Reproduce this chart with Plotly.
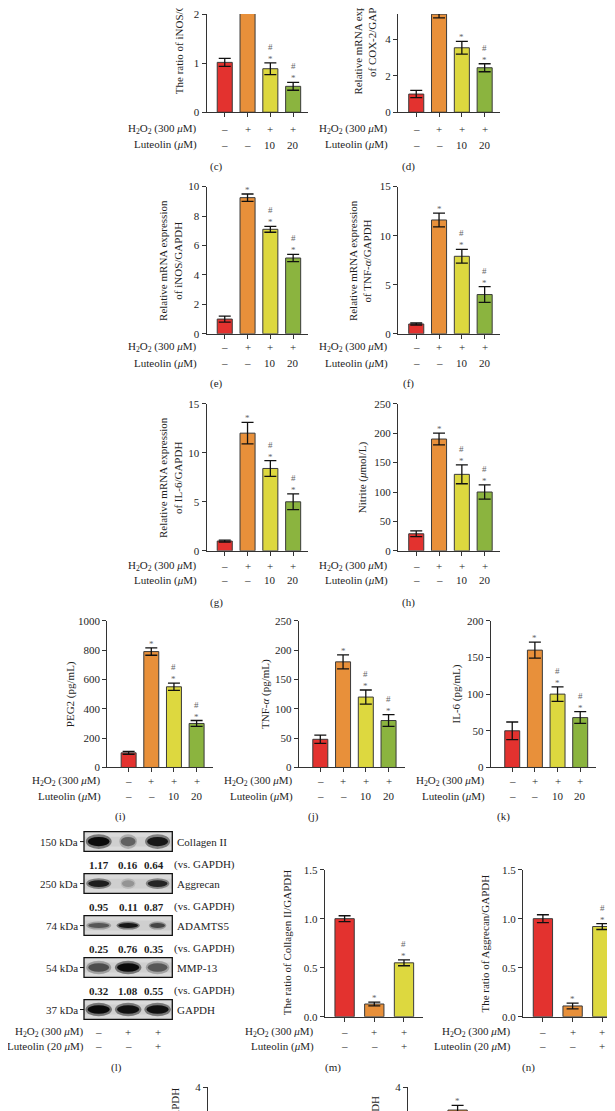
import plotly.graph_objects as go

W, H = 615, 1111
FONT = "Liberation Serif"
EDGE = "#3a3a3a"
AX = "#333333"
MARK = "#666666"
COL4 = ["#E3322F", "#E8903A", "#DDD83F", "#8BB43F"]

# ---------------- data ----------------
c_vals = [1.02, 2.60, 0.89, 0.53]; c_err = [0.08, 0.10, 0.12, 0.08]
d_vals = [1.00, 5.40, 3.55, 2.45]; d_err = [0.20, 0.20, 0.35, 0.22]
e_vals = [1.00, 9.25, 7.10, 5.15]; e_err = [0.20, 0.25, 0.20, 0.25]
f_vals = [1.00, 11.6, 7.90, 4.00]; f_err = [0.10, 0.70, 0.70, 0.80]
g_vals = [1.00, 12.0, 8.40, 5.00]; g_err = [0.10, 1.10, 0.80, 0.80]
h_vals = [29, 190, 130, 100]; h_err = [5, 10, 16, 12]
i_vals = [100, 790, 550, 300]; i_err = [10, 25, 25, 20]
j_vals = [48, 180, 120, 80]; j_err = [7, 12, 12, 10]
k_vals = [50, 160, 100, 68]; k_err = [12, 11, 10, 8]
m_vals = [1.00, 0.13, 0.55]; m_err = [0.03, 0.02, 0.03]
n_vals = [1.00, 0.11, 0.92]; n_err = [0.04, 0.03, 0.03]
o_vals = [1.00, 3.00, 2.00]; o_err = [0.10, 0.16, 0.15]
p_vals = [1.00, 3.38, 1.80]; p_err = [0.10, 0.13, 0.15]

sig_main = ["", "*", "#*", "#*"]
sig_d = ["", "*", "*", "#*"]
sig_3 = ["", "*", "#*"]

h2o2_4 = ["–", "+", "+", "+"]
lut_4 = ["–", "–", "10", "20"]
h2o2_3 = ["–", "+", "+"]
lut_3 = ["–", "–", "+"]

H2O2_LABEL = "H<sub>2</sub>O<sub>2</sub> (300 <i>μ</i>M)"
LUT_LABEL = "Luteolin (<i>μ</i>M)"
LUT20_LABEL = "Luteolin (20 <i>μ</i>M)"

blot_proteins = ["Collagen II", "Aggrecan", "ADAMTS5", "MMP-13", "GAPDH"]
blot_kda = ["150 kDa", "250 kDa", "74 kDa", "54 kDa", "37 kDa"]
blot_ratios = [["1.17", "0.16", "0.64"], ["0.95", "0.11", "0.87"],
               ["0.25", "0.76", "0.35"], ["0.32", "1.08", "0.55"], None]
band_intensity = [[1.0, 0.45, 0.9], [0.85, 0.22, 0.8], [0.5, 0.9, 0.6],
                  [0.55, 1.0, 0.5], [1.0, 0.95, 0.95]]
band_width = [[0.88, 0.6, 0.85], [0.85, 0.5, 0.8], [0.85, 0.8, 0.6],
              [0.85, 0.9, 0.8], [0.9, 0.9, 0.9]]
band_height = [0.22, 0.16, 0.12, 0.2, 0.2]

# ---------------- panels (layout in px) ----------------
X4 = [-0.80, 3.66]
X4b = [-0.95, 3.71]
X3 = [-0.67, 2.64]
panels = [
    dict(v=c_vals, e=c_err, s=sig_main, xd=[198.5, 300.2], yd=[0, 99.3], yr=[0, 2.01], yt=[0, 1, 2], xr=X4,
         title="The ratio of iNOS/GAPDH", tx=171.3, ty=83.3, tya="bottom",
         rows=(h2o2_4, lut_4, LUT_LABEL), rx=190.8, ry=(116, 132), lab="(c)", lx=208.5, ly=154),
    dict(v=d_vals, e=d_err, s=sig_d, xd=[390, 491.7], yd=[0, 99.3], yr=[0, 5.41], yt=[0, 2, 4], xr=X4,
         title="Relative mRNA expression<br>of COX-2/GAPDH", tx=356.7, ty=83.3, tya="bottom",
         rows=(h2o2_4, lut_4, LUT_LABEL), rx=382.3, ry=(116, 132), lab="(d)", lx=400, ly=154),
    dict(v=e_vals, e=e_err, s=sig_main, xd=[198.5, 300.2], yd=[174.5, 323.3], yr=[0, 10], yt=[0, 2, 4, 6, 8, 10], xr=X4,
         title="Relative mRNA expression<br>of iNOS/GAPDH", tx=162.7, ty=248.9, tya="middle",
         rows=(h2o2_4, lut_4, LUT_LABEL), rx=190.8, ry=(337, 353), lab="(e)", lx=208.5, ly=374),
    dict(v=f_vals, e=f_err, s=sig_main, xd=[390, 491.7], yd=[174.5, 323.3], yr=[0, 15], yt=[0, 5, 10, 15], xr=X4,
         title="Relative mRNA expression<br>of TNF-<i>α</i>/GAPDH", tx=351.9, ty=248.9, tya="middle",
         rows=(h2o2_4, lut_4, LUT_LABEL), rx=382.3, ry=(337, 353), lab="(f)", lx=400, ly=374),
    dict(v=g_vals, e=g_err, s=sig_main, xd=[198.5, 300.2], yd=[394, 542.7], yr=[0, 15], yt=[0, 5, 10, 15], xr=X4,
         title="Relative mRNA expression<br>of IL-6/GAPDH", tx=162.7, ty=468.4, tya="middle",
         rows=(h2o2_4, lut_4, LUT_LABEL), rx=190.8, ry=(558.3, 572.5), lab="(g)", lx=208.5, ly=595),
    dict(v=h_vals, e=h_err, s=sig_main, xd=[390, 491.7], yd=[394, 542.7], yr=[0, 250], yt=[0, 50, 100, 150, 200, 250], xr=X4,
         title="Nitrite (<i>μ</i>mol/L)", tx=354.8, ty=468.4, tya="middle",
         rows=(h2o2_4, lut_4, LUT_LABEL), rx=382.3, ry=(558.3, 572.5), lab="(h)", lx=400, ly=595),
    dict(v=i_vals, e=i_err, s=sig_main, xd=[99.1, 204.7], yd=[613.4, 761.7], yr=[0, 1000], yt=[0, 200, 400, 600, 800, 1000], xr=X4b,
         title="PEG2 (pg/mL)", tx=62, ty=687.6, tya="middle",
         rows=(h2o2_4, lut_4, LUT_LABEL), rx=95.4, ry=(775.7, 790.7), lab="(i)", lx=112.5, ly=811.7),
    dict(v=j_vals, e=j_err, s=sig_main, xd=[290.7, 396.7], yd=[613.4, 761.7], yr=[0, 250], yt=[0, 50, 100, 150, 200, 250], xr=X4b,
         title="TNF-<i>α</i> (pg/mL)", tx=256.8, ty=687.6, tya="middle",
         rows=(h2o2_4, lut_4, LUT_LABEL), rx=287, ry=(775.7, 790.7), lab="(j)", lx=305, ly=811.7),
    dict(v=k_vals, e=k_err, s=sig_main, xd=[482.7, 588.3], yd=[613.4, 761.7], yr=[0, 200], yt=[0, 50, 100, 150, 200], xr=X4b,
         title="IL-6 (pg/mL)", tx=448.3, ty=687.6, tya="middle",
         rows=(h2o2_4, lut_4, LUT_LABEL), rx=479, ry=(775.7, 790.7), lab="(k)", lx=495, ly=811.7),
    dict(v=m_vals, e=m_err, s=sig_3, xd=[316.7, 415], yd=[865, 1013.7], yr=[0, 1.5], yt=[0, 0.5, 1.0, 1.5], xr=X3, fmt=".1f",
         title="The ratio of Collagen II/GAPDH", tx=279, ty=939.4, tya="middle",
         rows=(h2o2_3, lut_3, LUT_LABEL), rx=308.3, ry=(1029.3, 1043.3), lab="(m)", lx=325, ly=1065),
    dict(v=n_vals, e=n_err, s=sig_3, xd=[515, 613.3], yd=[865, 1013.7], yr=[0, 1.5], yt=[0, 0.5, 1.0, 1.5], xr=X3, fmt=".1f",
         title="The ratio of Aggrecan/GAPDH", tx=477.3, ty=939.4, tya="middle",
         rows=(h2o2_3, lut_3, LUT20_LABEL), rx=505, ry=(1029.3, 1043.3), lab="(n)", lx=520, ly=1065),
    dict(v=o_vals, e=o_err, s=sig_3, xd=[200, 298.3], yd=[1085, 1111], yr=[3.30, 4.0], yt=[4], xr=X3, noxline=True,
         title="The ratio of ADAMTS5/GAPDH", tx=166.7, ty=1083.3, tya="top"),
    dict(v=p_vals, e=p_err, s=sig_3, xd=[400, 498.3], yd=[1085, 1111], yr=[3.30, 4.0], yt=[4], xr=X3, noxline=True,
         title="The ratio of MMP-13/GAPDH", tx=367, ty=1091.7, tya="top"),
]

fig = go.Figure()
layout = {}
annotations = []
shapes = []


def fx(px):
    return px / W


def fy(py):
    return 1 - py / H


def tfont(size=11, color="#1e1e1e"):
    return dict(family=FONT, size=size, color=color)


for idx, p in enumerate(panels, start=1):
    xa = "x" if idx == 1 else f"x{idx}"
    ya = "y" if idx == 1 else f"y{idx}"
    xkey = "xaxis" if idx == 1 else f"xaxis{idx}"
    ykey = "yaxis" if idx == 1 else f"yaxis{idx}"
    n = len(p["v"])
    cats = list(range(n))
    fig.add_trace(go.Bar(
        x=cats, y=p["v"], width=0.66 if n == 4 else 0.65,
        marker=dict(color=COL4[:n], line=dict(color=EDGE, width=1)),
        error_y=dict(type="data", array=p["e"], color="#111", thickness=1.3, width=6),
        xaxis=xa, yaxis=ya, showlegend=False, hoverinfo="skip"))
    nox = p.get("noxline", False)
    layout[xkey] = dict(domain=[fx(p["xd"][0]), fx(p["xd"][1])], anchor=ya, range=p["xr"],
                        showline=not nox, linecolor=AX, linewidth=1,
                        ticks="" if nox else "outside", ticklen=4, tickcolor=AX, tickwidth=1,
                        tickvals=cats, showticklabels=False, showgrid=False, zeroline=False,
                        fixedrange=True)
    layout[ykey] = dict(domain=[fy(p["yd"][1]), fy(p["yd"][0])], anchor=xa, range=p["yr"],
                        showline=True, linecolor=AX, linewidth=1, ticks="outside", ticklen=4,
                        tickcolor=AX, tickwidth=1, tickvals=p["yt"], tickfont=tfont(11),
                        tickformat=p.get("fmt", ""), showgrid=False, zeroline=False,
                        fixedrange=True)
    # significance marks (stacked: # above *)
    for i, s in enumerate(p["s"]):
        if not s:
            continue
        top = p["v"][i] + p["e"][i]
        txt = "#<br>*" if "#" in s else "*"
        annotations.append(dict(x=i, y=top, xref=xa, yref=ya, text=txt, showarrow=False,
                                xanchor="center", yanchor="bottom", yshift=-3, align="center",
                                font=tfont(9, MARK)))
    # y title
    annotations.append(dict(x=fx(p["tx"]), y=fy(p["ty"]), xref="paper", yref="paper",
                            text=p["title"], textangle=-90, showarrow=False,
                            xanchor="center", yanchor=p["tya"], align="center", font=tfont(11)))
    # condition rows
    if "rows" in p:
        r1, r2, l2 = p["rows"]
        for lab, vals, py in ((H2O2_LABEL, r1, p["ry"][0]), (l2, r2, p["ry"][1])):
            annotations.append(dict(x=fx(p["rx"]), y=fy(py), xref="paper", yref="paper", text=lab,
                                    showarrow=False, xanchor="right", yanchor="middle", font=tfont(11)))
            for i, t in enumerate(vals):
                annotations.append(dict(x=i, y=fy(py), xref=xa, yref="paper", text=t,
                                        showarrow=False, xanchor="center", yanchor="middle",
                                        font=tfont(11)))
        annotations.append(dict(x=fx(p["lx"]), y=fy(p["ly"]), xref="paper", yref="paper",
                                text=p["lab"], showarrow=False, xanchor="center", yanchor="middle",
                                font=tfont(11)))

# ---------------- western blot panel (l) ----------------
bi = len(panels) + 1
bxa, bya = f"x{bi}", f"y{bi}"
lanes = [1, 2, 3]
LANE_PX = (164.3 - 76) / 3.0          # px per lane unit
bx_lo = 0.5 - 76 / LANE_PX            # axis value at px 0
bx_hi = 0.5 + (260 - 76) / LANE_PX    # axis value at px 260
fig.add_trace(go.Scatter(x=lanes, y=[0, 0, 0], mode="markers", marker=dict(opacity=0),
                         xaxis=bxa, yaxis=bya, showlegend=False, hoverinfo="skip"))
layout[f"xaxis{bi}"] = dict(domain=[0, fx(260)], anchor=bya, range=[bx_lo, bx_hi], visible=False,
                            fixedrange=True)
layout[f"yaxis{bi}"] = dict(domain=[fy(1017), fy(826)], anchor=bxa, range=[4.25, -0.25], visible=False,
                            fixedrange=True)
HB = 0.235
TICK = 4 / LANE_PX
for r, prot in enumerate(blot_proteins):
    shapes.append(dict(type="rect", xref=bxa, yref=bya, x0=0.5, x1=3.5, y0=r - HB, y1=r + HB,
                       fillcolor="#dadada", line=dict(width=0), layer="above"))
    shapes.append(dict(type="rect", xref=bxa, yref=bya, x0=0.5, x1=3.5, y0=r - HB * 0.5, y1=r + HB * 0.5,
                       fillcolor="#c8c8c8", line=dict(width=0), opacity=0.6, layer="above"))
    for li, lane in enumerate(lanes):
        a = band_intensity[r][li]
        w = band_width[r][li]
        hh = band_height[r]
        shapes.append(dict(type="circle", xref=bxa, yref=bya, x0=lane - w / 2, x1=lane + w / 2,
                           y0=r - hh * 0.8, y1=r + hh * 0.8, fillcolor=f"rgba(0,0,0,{0.45 * a:.2f})",
                           line=dict(width=0), layer="above"))
        shapes.append(dict(type="circle", xref=bxa, yref=bya, x0=lane - w * 0.42, x1=lane + w * 0.42,
                           y0=r - hh / 2, y1=r + hh / 2, fillcolor=f"rgba(0,0,0,{0.9 * a:.2f})",
                           line=dict(width=0), layer="above"))
    shapes.append(dict(type="rect", xref=bxa, yref=bya, x0=0.5, x1=3.5, y0=r - HB, y1=r + HB,
                       fillcolor="rgba(0,0,0,0)", line=dict(color="#111", width=1.3), layer="above"))
    shapes.append(dict(type="line", xref=bxa, yref=bya, x0=0.5 - TICK, x1=0.5, y0=r, y1=r,
                       line=dict(color="#111", width=1), layer="above"))
    annotations.append(dict(x=0.5 - TICK, y=r, xref=bxa, yref=bya, text=blot_kda[r], showarrow=False,
                            xanchor="right", yanchor="middle", font=tfont(11)))
    annotations.append(dict(x=3.5, y=r, xref=bxa, yref=bya, text=prot, showarrow=False,
                            xanchor="left", yanchor="middle", xshift=3, font=tfont(11)))
    if blot_ratios[r] is not None:
        for li, lane in enumerate(lanes):
            annotations.append(dict(x=lane, y=r + 0.55, xref=bxa, yref=bya,
                                    text=f"<b>{blot_ratios[r][li]}</b>", showarrow=False,
                                    xanchor="center", yanchor="middle",
                                    xshift=-4 if li == 2 else 0, font=tfont(11)))
        annotations.append(dict(x=3.5, y=r + 0.55, xref=bxa, yref=bya, text="(vs. GAPDH)",
                                showarrow=False, xanchor="left", yanchor="middle", font=tfont(11)))

for lab, vals, py in ((H2O2_LABEL, h2o2_3, 1029.3), (LUT20_LABEL, lut_3, 1043.3)):
    annotations.append(dict(x=fx(78), y=fy(py), xref="paper", yref="paper", text=lab,
                            showarrow=False, xanchor="right", yanchor="middle", font=tfont(11)))
    for li, t in enumerate(vals):
        annotations.append(dict(x=lanes[li], y=fy(py), xref=bxa, yref="paper", text=t,
                                showarrow=False, xanchor="center", yanchor="middle", font=tfont(11)))
annotations.append(dict(x=fx(108), y=fy(1065), xref="paper", yref="paper", text="(l)",
                        showarrow=False, xanchor="center", yanchor="middle", font=tfont(11)))

fig.update_layout(
    width=W, height=H, margin=dict(l=0, r=0, t=0, b=0),
    paper_bgcolor="white", plot_bgcolor="white",
    font=dict(family=FONT, size=11, color="#1e1e1e"),
    showlegend=False,
    annotations=annotations, shapes=shapes, **layout)

fig.write_html("out.html", config={"displayModeBar": False})
